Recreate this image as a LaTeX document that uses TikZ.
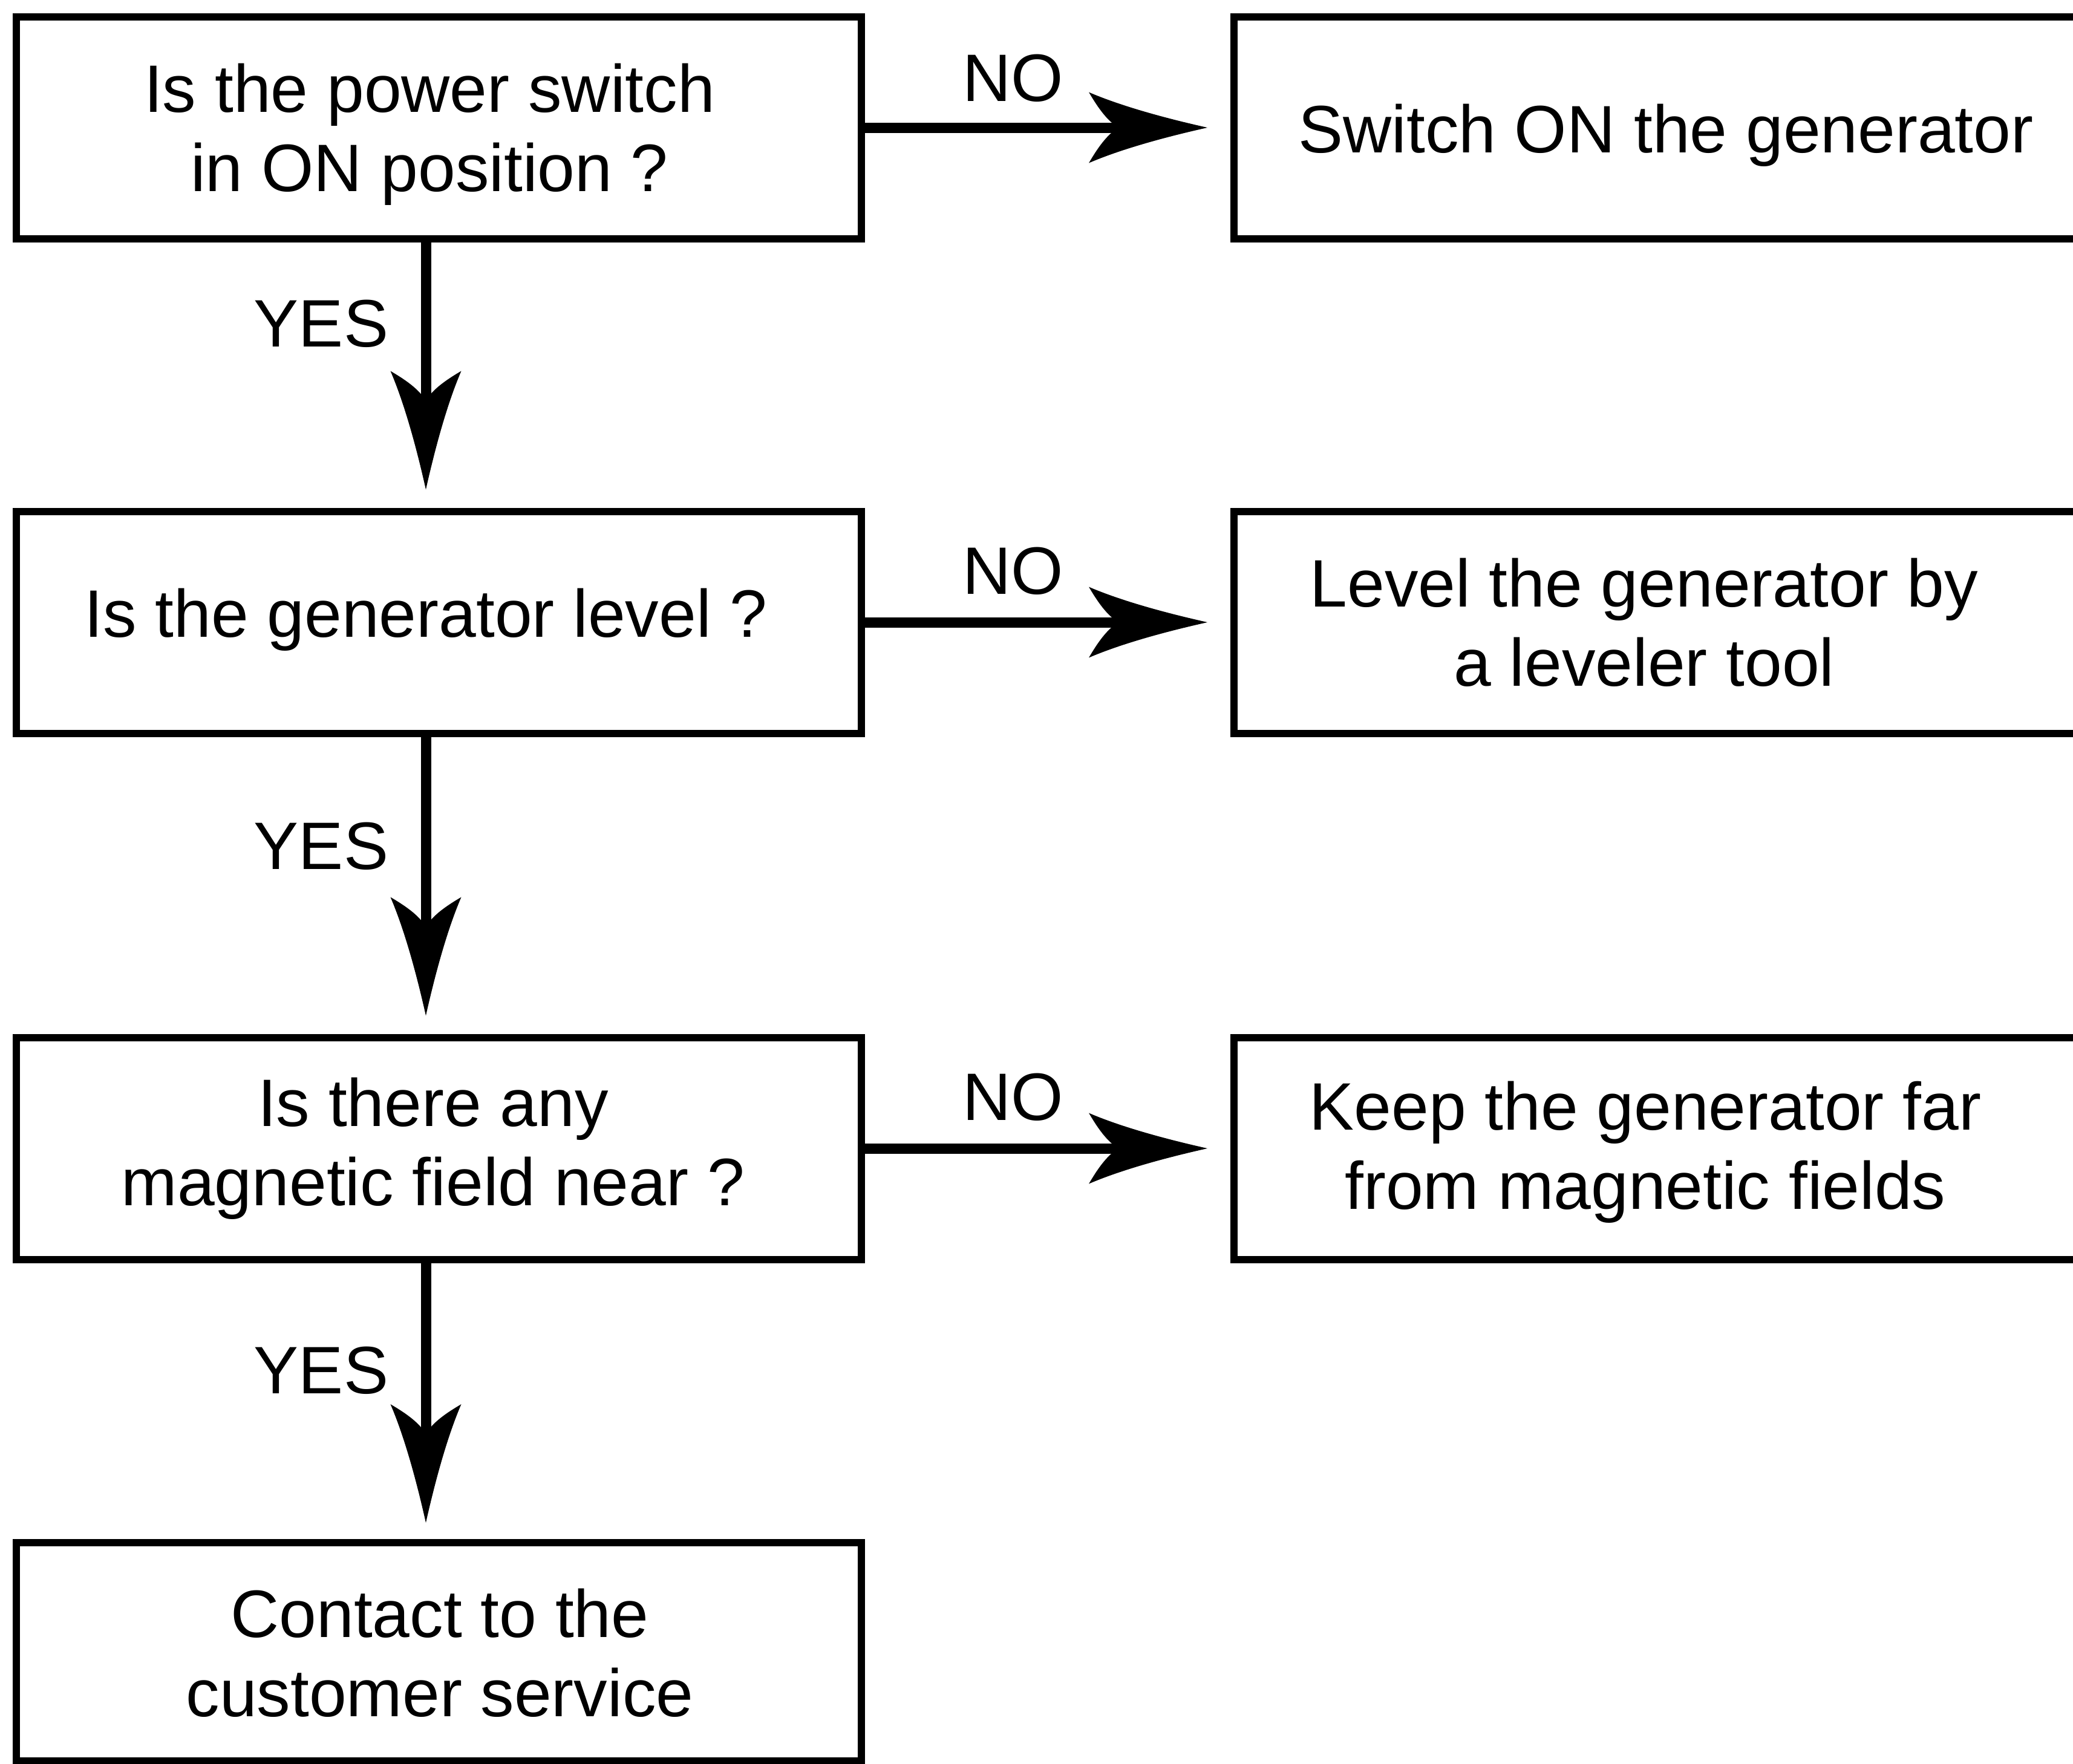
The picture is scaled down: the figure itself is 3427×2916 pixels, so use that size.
\documentclass[tikz,border=0pt]{standalone}
\usepackage{fontspec}
\setmainfont{Liberation Sans}
\usetikzlibrary{arrows.meta}
\pgfdeclarearrow{
  name = Swept,
  parameters = {\the\pgfarrowlength,\the\pgfarrowwidth},
  setup code = {
    \pgfarrowssettipend{0pt}
    \pgfarrowssetbackend{-\pgfarrowlength}
    \pgfarrowssetlineend{-0.6\pgfarrowlength}
    \pgfarrowssavethe\pgfarrowlength
    \pgfarrowssavethe\pgfarrowwidth
  },
  drawing code = {
    \pgfpathmoveto{\pgfqpoint{0pt}{0pt}}
    \pgfpathcurveto{\pgfqpoint{-0.4\pgfarrowlength}{0.15\pgfarrowwidth}}{\pgfqpoint{-0.75\pgfarrowlength}{0.32\pgfarrowwidth}}{\pgfqpoint{-\pgfarrowlength}{0.5\pgfarrowwidth}}
    \pgfpathcurveto{\pgfqpoint{-0.93\pgfarrowlength}{0.3\pgfarrowwidth}}{\pgfqpoint{-0.85\pgfarrowlength}{0.1\pgfarrowwidth}}{\pgfqpoint{-0.75\pgfarrowlength}{0pt}}
    \pgfpathcurveto{\pgfqpoint{-0.85\pgfarrowlength}{-0.1\pgfarrowwidth}}{\pgfqpoint{-0.93\pgfarrowlength}{-0.3\pgfarrowwidth}}{\pgfqpoint{-\pgfarrowlength}{-0.5\pgfarrowwidth}}
    \pgfpathcurveto{\pgfqpoint{-0.75\pgfarrowlength}{-0.32\pgfarrowwidth}}{\pgfqpoint{-0.4\pgfarrowlength}{-0.15\pgfarrowwidth}}{\pgfqpoint{0pt}{0pt}}
    \pgfpathclose
    \pgfusepathqfill
  },
  defaults = {length = 19.6pt, width = 11.7pt}
}
\begin{document}
\begin{tikzpicture}[x=0.1pt,y=-0.1pt,
  box/.style={draw, line width=1.2pt, minimum width=139.7pt, minimum height=36.7pt,
    inner sep=0pt},
  txt/.style={inner sep=0pt, align=center, font=\fontsize{11.1pt}{13.1pt}\selectfont},
  lbl/.style={inner sep=0pt, font=\fontsize{11.1pt}{13.1pt}\selectfont},
  conn/.style={line width=1.7pt, -{Swept}}]
\clip (0,0) rectangle (3427,2916);
% left column
\node[box] (q1) at (725.5,211) {};
\node[box] (q2) at (725.5,1029) {};
\node[box] (q3) at (725.5,1899) {};
\node[box, minimum height=36.1pt] (q4) at (725.5,2731.5) {};
\node[txt] (t1) at (710,222) {Is the power switch\\in ON position ?};
\node[txt] (t2) at (704,1025) {Is the generator level ?};
\node[txt] (t3) at (716,1899) {Is there any\\magnetic field near ?};
\node[txt] (t4) at (727,2733) {Contact to the\\customer service};
% right column
\node[box] (a1) at (2738.5,211) {};
\node[box] (a2) at (2738.5,1029) {};
\node[box] (a3) at (2738.5,1899) {};
\node[txt] (s1) at (2754,224) {Switch ON the generator};
\node[txt] (s2) at (2718,1029) {Level the generator by\\a leveler tool};
\node[txt] (s3) at (2720,1905) {Keep the generator far\\from magnetic fields};
% connectors
\coordinate (ax) at (704,0);
\draw[conn, shorten >=3pt] (q1.south -| ax) -- (q2.north -| ax);
\draw[conn, shorten >=3pt] (q2.south -| ax) -- (q3.north -| ax);
\draw[conn, shorten >=2.7pt] (q3.south -| ax) -- (q4.north -| ax);
\draw[conn, shorten >=3.8pt] (q1.east) -- (a1.west);
\draw[conn, shorten >=3.8pt] (q2.east) -- (a2.west);
\draw[conn, shorten >=3.8pt] (q3.east) -- (a3.west);
% labels
\node[lbl] (n1) at (1675,129) {NO};
\node[lbl] (n2) at (1675,944) {NO};
\node[lbl] (n3) at (1675,1814) {NO};
\node[lbl] (y1) at (531,535) {YES};
\node[lbl] (y2) at (531,1399) {YES};
\node[lbl] (y3) at (531,2266) {YES};
\end{tikzpicture}
\end{document}
